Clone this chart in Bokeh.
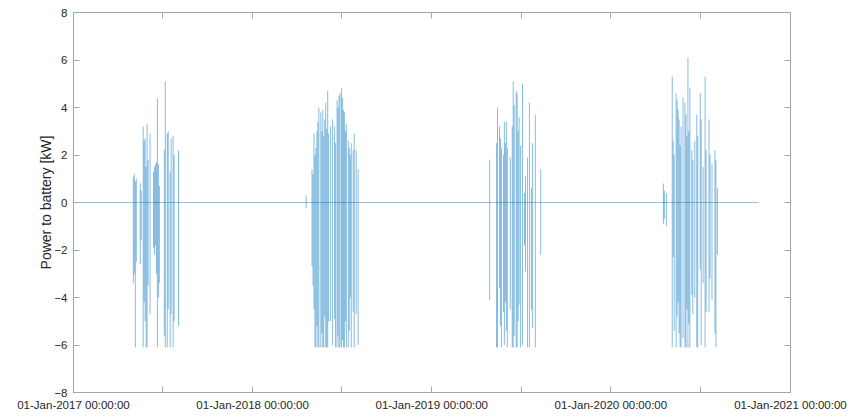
import pandas as pd
from bokeh.plotting import figure
from bokeh.models import (Range1d, FixedTicker, DatetimeTickFormatter, ColumnDataSource,
                          LinearAxis)
from bokeh.embed import file_html
from bokeh.resources import INLINE

# ---------------- data ----------------
series_start = "2017-01-01"
series_end = "2020-10-29"
baseline_value = 0.0

dates_2017 = ["2017-01-01", "2017-05-03", "2017-05-05", "2017-05-07", "2017-05-09", "2017-05-17",
              "2017-05-19", "2017-05-23", "2017-05-25", "2017-05-27", "2017-05-29", "2017-05-31",
              "2017-06-02", "2017-06-06", "2017-06-13", "2017-06-15", "2017-06-17", "2017-06-19",
              "2017-06-21", "2017-06-23", "2017-06-25", "2017-07-05", "2017-07-07", "2017-07-11",
              "2017-07-13", "2017-07-17", "2017-07-19", "2017-07-23", "2017-07-25", "2017-08-03"]
hi_2017 = [0.0, 1.1, 1.2, 0.9, 1.0, 0.8, 0.5, 3.2, 2.6, 2.7, 1.5, 3.3, 1.8, 2.9, 1.3, 1.5, 1.6,
           1.7, 4.4, 1.6, 0.7, 2.2, 5.1, 2.9, 3.0, 1.3, 2.7, 2.8, 2.0, 2.2]
lo_2017 = [-6.1, -3.4, -3.0, -6.1, -2.5, -2.6, -1.6, -6.1, -4.2, -5.0, -6.1, -6.1, -3.5, -4.7,
           -1.9, -2.2, -1.8, -3.0, -6.1, -4.0, -3.4, -5.6, -6.1, -6.1, -4.5, -6.1, -4.7, -6.1,
           -5.0, -5.2]

dates_2018 = ["2018-04-20", "2018-05-02", "2018-05-04", "2018-05-06", "2018-05-08", "2018-05-10",
              "2018-05-12", "2018-05-14", "2018-05-16", "2018-05-20", "2018-05-22", "2018-05-24",
              "2018-05-26", "2018-05-28", "2018-05-30", "2018-06-01", "2018-06-03", "2018-06-05",
              "2018-06-09", "2018-06-13", "2018-06-17", "2018-06-19", "2018-06-22", "2018-06-24",
              "2018-06-26", "2018-06-28", "2018-07-01", "2018-07-03", "2018-07-05", "2018-07-07",
              "2018-07-09", "2018-07-11", "2018-07-15", "2018-07-17", "2018-07-19", "2018-07-21",
              "2018-07-25", "2018-07-27", "2018-07-31", "2018-08-04"]
hi_2018 = [0.3, 1.4, 1.2, 2.9, 2.0, 2.3, 3.0, 3.4, 4.0, 3.8, 3.0, 3.9, 2.8, 3.5, 4.2, 3.1, 4.7,
           2.9, 3.2, 3.5, 3.2, 2.5, 4.3, 4.0, 4.5, 4.6, 4.8, 4.4, 3.9, 3.8, 3.0, 3.3, 2.6, 2.3,
           2.0, 2.5, 2.2, 2.9, 2.2, 1.4]
lo_2018 = [-0.25, -2.7, -3.5, -4.5, -6.1, -6.1, -5.2, -6.1, -6.1, -6.1, -5.5, -6.1, -6.1, -4.8,
           -6.1, -6.1, -6.1, -5.0, -5.0, -6.0, -4.9, -6.1, -6.1, -5.6, -6.1, -6.1, -6.1, -5.8,
           -6.1, -6.1, -5.0, -6.1, -6.1, -5.4, -4.0, -6.1, -4.6, -6.1, -4.7, -6.0]

dates_2019 = ["2019-04-29", "2019-05-13", "2019-05-15", "2019-05-19", "2019-05-21", "2019-05-23",
              "2019-05-27", "2019-05-29", "2019-05-31", "2019-06-02", "2019-06-04", "2019-06-10",
              "2019-06-14", "2019-06-16", "2019-06-18", "2019-06-22", "2019-06-24", "2019-06-26",
              "2019-06-28", "2019-07-01", "2019-07-05", "2019-07-09", "2019-07-11", "2019-07-15",
              "2019-07-19", "2019-07-23", "2019-07-25", "2019-07-31", "2019-08-11"]
hi_2019 = [1.8, 2.5, 4.0, 3.2, 2.7, 2.3, 2.0, 3.4, 2.5, 3.4, 2.3, 1.9, 3.2, 5.1, 4.1, 4.7, 4.6,
           3.0, 3.6, 2.4, 5.0, 0.4, 1.1, 1.9, 4.2, 0.6, 2.5, 3.7, 1.4]
lo_2019 = [-4.1, -6.1, -6.1, -3.6, -5.2, -6.1, -4.6, -6.0, -4.2, -5.4, -6.1, -4.5, -6.1, -6.1,
           -5.6, -6.1, -6.1, -5.0, -4.3, -6.1, -6.0, -1.8, -2.9, -6.1, -6.1, -4.5, -5.3, -6.1,
           -2.2]

dates_2020 = ["2020-04-17", "2020-04-19", "2020-04-23", "2020-05-05", "2020-05-07", "2020-05-09",
              "2020-05-13", "2020-05-15", "2020-05-17", "2020-05-19", "2020-05-21", "2020-05-23",
              "2020-05-27", "2020-05-31", "2020-06-02", "2020-06-04", "2020-06-06", "2020-06-08",
              "2020-06-10", "2020-06-14", "2020-06-16", "2020-06-20", "2020-06-24", "2020-06-26",
              "2020-07-01", "2020-07-03", "2020-07-07", "2020-07-11", "2020-07-13", "2020-07-19",
              "2020-07-21", "2020-07-25", "2020-07-31", "2020-08-02", "2020-08-05"]
hi_2020 = [0.8, 0.5, 0.4, 5.3, 2.6, 2.0, 4.6, 4.3, 3.9, 3.5, 2.4, 3.2, 4.4, 4.2, 3.7, 2.8, 6.1,
           3.0, 4.8, 2.2, 1.8, 2.6, 3.7, 2.8, 4.6, 3.5, 1.5, 5.3, 2.2, 3.5, 2.0, 1.6, 2.2, 1.8, 0.6]
lo_2020 = [-0.9, -0.7, -1.0, -6.1, -2.3, -5.4, -6.1, -4.8, -4.2, -5.5, -6.1, -6.1, -5.7, -6.1,
           -6.1, -4.5, -6.1, -5.1, -6.1, -3.9, -4.7, -4.0, -6.1, -6.1, -2.8, -6.0, -3.4, -6.1,
           -4.6, -4.6, -3.2, -4.1, -5.5, -6.1, -2.2]

year_ticks = ["2017-01-01", "2018-01-01", "2019-01-01", "2020-01-01", "2021-01-01"]
mid_ticks = ["2017-07-02", "2018-07-02", "2019-07-02", "2020-07-02"]
y_ticks = [-8, -6, -4, -2, 0, 2, 4, 6, 8]
y_label = "Power to battery [kW]"

# ---------------- build ----------------
def ms(d):
    return pd.Timestamp(d).value // 10**6

all_dates = dates_2017 + dates_2018 + dates_2019 + dates_2020
src = ColumnDataSource(dict(
    x=pd.to_datetime(all_dates),
    hi=hi_2017 + hi_2018 + hi_2019 + hi_2020,
    lo=lo_2017 + lo_2018 + lo_2019 + lo_2020,
))

LINE = "#0072BD"
TXT = "#262626"
AX = "#a6a6a6"
FONT = "Liberation Sans"

p = figure(width=853, height=417, x_axis_type="datetime", output_backend="svg",
           toolbar_location=None,
           x_range=Range1d(ms(year_ticks[0]), ms(year_ticks[-1])),
           y_range=Range1d(y_ticks[0], y_ticks[-1]),
           min_border_left=73, min_border_right=63, min_border_top=12, min_border_bottom=25)
p.grid.visible = False
p.outline_line_color = AX
p.background_fill_color = "white"
p.border_fill_color = "white"

p.line(x=pd.to_datetime([series_start, series_end]), y=[baseline_value, baseline_value],
       line_color=LINE, line_width=0.7, line_alpha=0.6)
p.segment(x0="x", y0="lo", x1="x", y1="hi", source=src, line_color=LINE,
          line_width=0.6, line_alpha=0.8)

fmt = "%d-%b-%Y %H:%M:%S"
p.xaxis.formatter = DatetimeTickFormatter(
    microseconds=fmt, milliseconds=fmt, seconds=fmt, minsec=fmt, minutes=fmt,
    hourmin=fmt, hours=fmt, days=fmt, months=fmt, years=fmt)
p.xaxis.ticker = FixedTicker(ticks=[ms(d) for d in year_ticks],
                             minor_ticks=[ms(d) for d in mid_ticks])
p.yaxis.ticker = FixedTicker(ticks=y_ticks, minor_ticks=[])
p.yaxis.axis_label = y_label

for ax in (p.xaxis[0], p.yaxis[0]):
    ax.axis_line_color = AX
    ax.major_tick_line_color = AX
    ax.minor_tick_line_color = AX
    ax.major_tick_in = 6
    ax.major_tick_out = 0
    ax.minor_tick_in = 6
    ax.minor_tick_out = 0
    ax.major_label_text_color = TXT
    ax.major_label_text_font = FONT
    ax.major_label_text_font_size = "11.5px"
    ax.major_label_standoff = 6
    ax.axis_label_text_color = TXT
    ax.axis_label_text_font = FONT
    ax.axis_label_text_font_size = "14px"
    ax.axis_label_text_font_style = "normal"
    ax.axis_label_standoff = -3

# mirrored tick marks (box on), without labels
right = LinearAxis(ticker=FixedTicker(ticks=y_ticks, minor_ticks=[]),
                   major_label_overrides={t: "" for t in y_ticks})
top = LinearAxis(ticker=FixedTicker(ticks=[ms(d) for d in year_ticks],
                                    minor_ticks=[ms(d) for d in mid_ticks]),
                 major_label_overrides={float(ms(d)): "" for d in year_ticks})
for ax in (right, top):
    ax.axis_line_color = None
    ax.major_tick_line_color = AX
    ax.minor_tick_line_color = AX
    ax.major_tick_in = 6
    ax.major_tick_out = 0
    ax.minor_tick_in = 6
    ax.minor_tick_out = 0
    ax.major_label_standoff = 0
p.add_layout(right, "right")
p.add_layout(top, "above")

open("out.html", "w").write(file_html(p, INLINE))
